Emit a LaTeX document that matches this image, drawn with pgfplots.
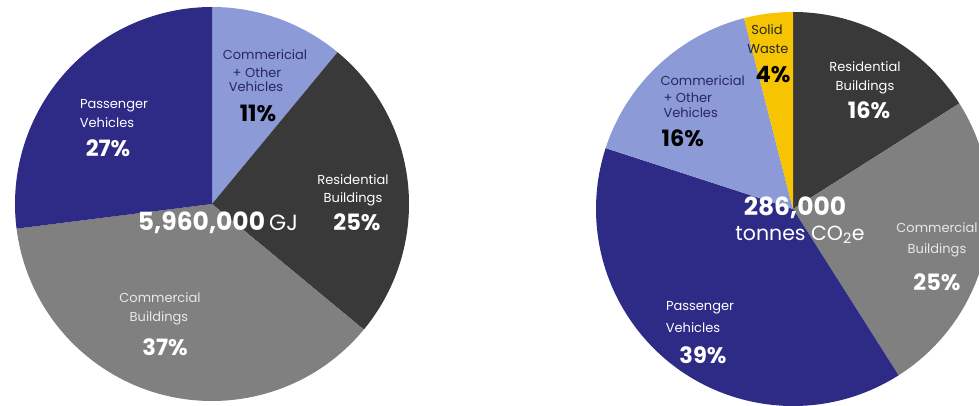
\documentclass[border=0pt]{standalone}
\usepackage{pgfplots}
\usepackage{pgfplotstable}
\usepackage{fontspec}
\setmainfont{Poppins}
\pgfplotsset{compat=1.18}

\definecolor{pass}{HTML}{2E2B86}
\definecolor{cveh}{HTML}{8D9AD8}
\definecolor{resid}{HTML}{3A3939}
\definecolor{cbld}{HTML}{808080}
\definecolor{waste}{HTML}{F6C400}
\definecolor{navytxt}{HTML}{27285E}
\definecolor{lgtxt}{HTML}{E8E8E8}

% Energy use (GJ) shares, clockwise from 12 o'clock
\pgfplotstableread{
slice pct
CommOtherVehicles 11
ResidentialBuildings 25
CommercialBuildings 37
PassengerVehicles 27
}\energy
% Emissions (tonnes CO2e) shares, clockwise from 12 o'clock
\pgfplotstableread{
slice pct
ResidentialBuildings 16
CommercialBuildings 25
PassengerVehicles 39
CommOtherVehicles 16
SolidWaste 4
}\emis

\newcommand\getpct[3]{\pgfplotstablegetelem{#2}{pct}\of{#1}\let#3\pgfplotsretval}
\newcommand\lbl{\fontsize{13}{15}\selectfont}
\newcommand\pct{\fontsize{22.5}{26}\selectfont\bfseries}
\newcommand\bignum{\fontsize{25}{28}\selectfont\bfseries}

\begin{document}%
\begin{tikzpicture}
\getpct{\energy}{0}\ea \getpct{\energy}{1}\eb \getpct{\energy}{2}\ec \getpct{\energy}{3}\ed
\pgfmathsetmacro\LA{90-3.6*\ea}
\pgfmathsetmacro\LB{\LA-3.6*\eb}
\pgfmathsetmacro\LC{\LB-3.6*\ec}
\pgfmathsetmacro\LD{\LC-3.6*\ed}
\getpct{\emis}{0}\ra \getpct{\emis}{1}\rb \getpct{\emis}{2}\rc \getpct{\emis}{3}\rd \getpct{\emis}{4}\re
\pgfmathsetmacro\RA{90-3.6*\ra}
\pgfmathsetmacro\RB{\RA-3.6*\rb}
\pgfmathsetmacro\RC{\RB-3.6*\rc}
\pgfmathsetmacro\RD{\RC-3.6*\rd}
\pgfmathsetmacro\RE{\RD-3.6*\re}
\begin{axis}[
  x=1pt, y=1pt,
  xmin=0, xmax=979, ymin=0, ymax=406,
  hide axis, clip=true,
  every node/.append style={anchor=base, inner sep=0pt},
]
% left pie
\fill[cveh]  (axis cs:212,202) -- +(90:197pt)  arc[start angle=90,  end angle=\LA, radius=197pt] -- cycle;
\fill[resid] (axis cs:212,202) -- +(\LA:197pt) arc[start angle=\LA, end angle=\LB, radius=197pt] -- cycle;
\fill[cbld]  (axis cs:212,202) -- +(\LB:197pt) arc[start angle=\LB, end angle=\LC, radius=197pt] -- cycle;
\fill[pass]  (axis cs:212,202) -- +(\LC:197pt) arc[start angle=\LC, end angle=\LD, radius=197pt] -- cycle;
% right pie
\fill[resid] (axis cs:793,197) -- +(90:197pt)  arc[start angle=90,  end angle=\RA, radius=197pt] -- cycle;
\fill[cbld]  (axis cs:793,197) -- +(\RA:197pt) arc[start angle=\RA, end angle=\RB, radius=197pt] -- cycle;
\fill[pass]  (axis cs:793,197) -- +(\RB:197pt) arc[start angle=\RB, end angle=\RC, radius=197pt] -- cycle;
\fill[cveh]  (axis cs:793,197) -- +(\RC:197pt) arc[start angle=\RC, end angle=\RD, radius=197pt] -- cycle;
\fill[waste] (axis cs:793,197) -- +(\RD:197pt) arc[start angle=\RD, end angle=\RE, radius=197pt] -- cycle;

% left pie labels (y = 406 - baseline in image)
\node[navytxt] at (axis cs:265,351) {\lbl Commericial};
\node[navytxt] at (axis cs:257,333) {\lbl + Other};
\node[navytxt] at (axis cs:256,319) {\lbl Vehicles};
\node[black]   at (axis cs:258,293) {\pct 11\%};
\node[white] at (axis cs:114,300) {\lbl Passenger};
\node[white] at (axis cs:107,283) {\lbl Vehicles};
\node[white] at (axis cs:108,258) {\pct 27\%};
\node[white] at (axis cs:353,226) {\lbl Residential};
\node[white] at (axis cs:353,207) {\lbl Buildings};
\node[white] at (axis cs:357,184) {\pct 25\%};
\node[white] at (axis cs:218,183) {\bignum 5,960,000\,\mdseries\fontsize{22}{24}\selectfont GJ};
\node[lgtxt] at (axis cs:160,108) {\lbl Commercial};
\node[lgtxt] at (axis cs:159,88) {\lbl Buildings};
\node[white] at (axis cs:165,59) {\pct 37\%};

% right pie labels
\node[black!85] at (axis cs:767,376) {\lbl Solid};
\node[black!85] at (axis cs:768,357) {\lbl Waste};
\node[black]    at (axis cs:773,331) {\pct 4\%};
\node[white] at (axis cs:865,339) {\lbl Residential};
\node[white] at (axis cs:865,319) {\lbl Buildings};
\node[white] at (axis cs:869,296) {\pct 16\%};
\node[navytxt,anchor=base west] at (axis cs:657,320) {\lbl Commericial};
\node[navytxt,anchor=base west] at (axis cs:660,303) {\lbl + Other};
\node[navytxt,anchor=base west] at (axis cs:660,288) {\lbl Vehicles};
\node[black,anchor=base west]   at (axis cs:658,259) {\pct 16\%};
\node[white] at (axis cs:795,198) {\bignum 286,000};
\node[white] at (axis cs:800,171) {\fontsize{20.5}{22}\selectfont tonnes CO\textsubscript{2}e};
\node[lgtxt] at (axis cs:937,178) {\lbl Commercial};
\node[lgtxt] at (axis cs:937,156) {\lbl Buildings};
\node[white] at (axis cs:937,124) {\pct 25\%};
\node[white] at (axis cs:700,98) {\lbl Passenger};
\node[white] at (axis cs:693,78) {\lbl Vehicles};
\node[white] at (axis cs:703,51) {\pct 39\%};
\end{axis}
\pgfresetboundingbox
\path (0,0) rectangle (979pt,406pt);
\end{tikzpicture}%
\end{document}
